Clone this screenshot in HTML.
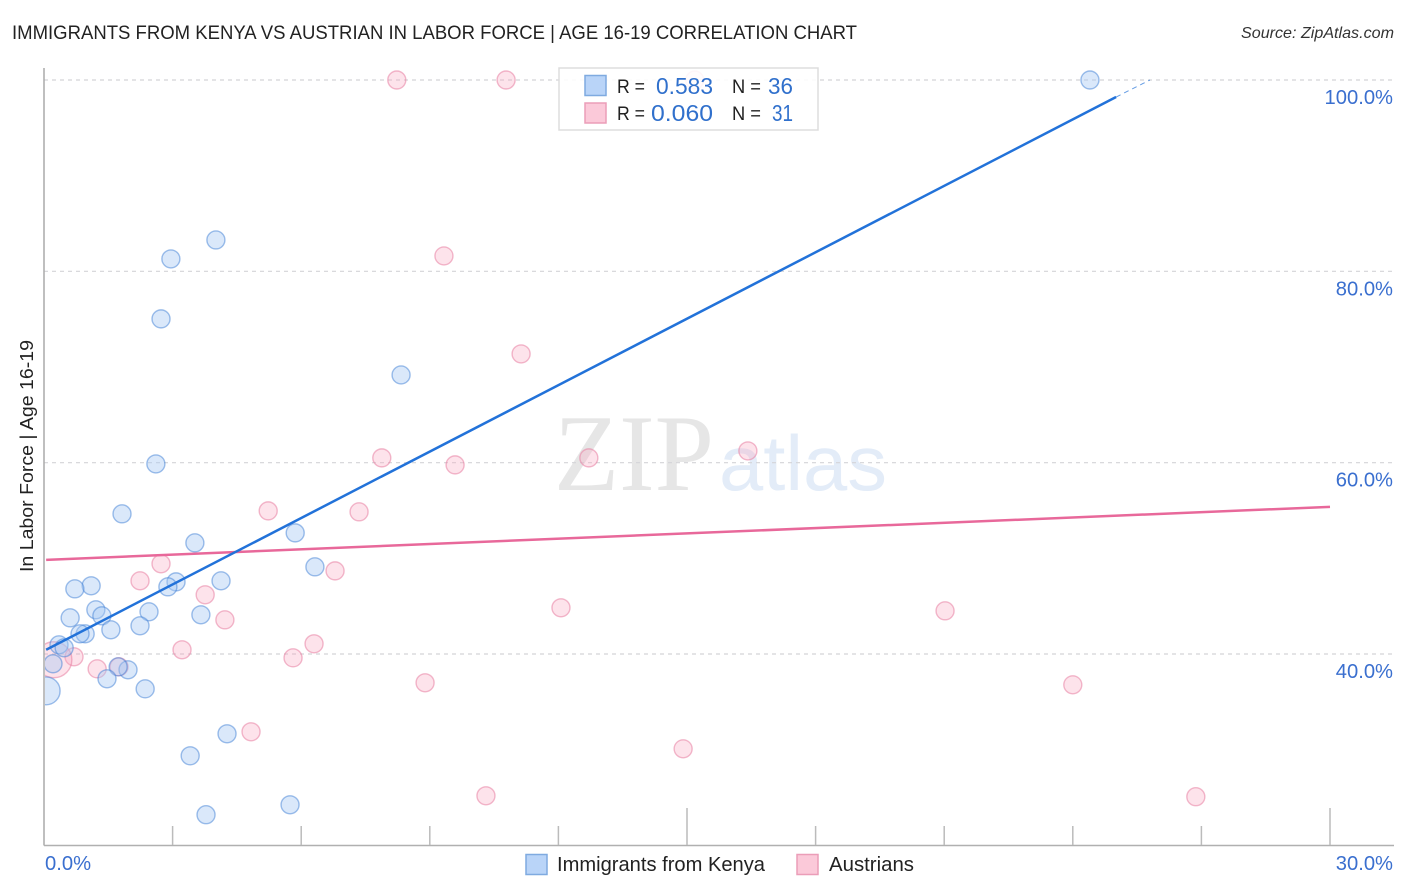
<!DOCTYPE html>
<html lang="en">
<head>
<meta charset="utf-8">
<title>Immigrants from Kenya vs Austrian in Labor Force | Age 16-19 Correlation Chart</title>
<style>
html,body{margin:0;padding:0;background:#fff;width:1406px;height:892px;overflow:hidden}
svg{display:block;font-family:"Liberation Sans",sans-serif}
</style>
</head>
<body>
<svg id="chart" width="1406" height="892" viewBox="0 0 1406 892">
  <defs><clipPath id="plot-clip"><rect x="45" y="60" width="1350" height="785"/></clipPath></defs>
  <rect x="0" y="0" width="1406" height="892" fill="#fff"/>
  <text x="12" y="39" font-size="19" fill="#222" textLength="845" lengthAdjust="spacingAndGlyphs">IMMIGRANTS FROM KENYA VS AUSTRIAN IN LABOR FORCE | AGE 16-19 CORRELATION CHART</text>
  <text x="1394" y="38" font-size="16" font-style="italic" fill="#333" text-anchor="end" textLength="153" lengthAdjust="spacingAndGlyphs">Source: ZipAtlas.com</text>
  <text x="554" y="490" font-size="109" font-family="'Liberation Serif',serif" fill="#e6e6e6" textLength="160" lengthAdjust="spacingAndGlyphs">ZIP</text>
  <text x="719" y="490" font-size="78" fill="#e3ecf8" textLength="168" lengthAdjust="spacingAndGlyphs">atlas</text>
  <g id="grid"></g>
  <g id="axes"></g>
  <g id="marks" clip-path="url(#plot-clip)"></g>
  <g id="trends"></g>
  <g id="labels"></g>
  <text transform="translate(33,456) rotate(-90)" font-size="18.5" fill="#222" text-anchor="middle" textLength="232" lengthAdjust="spacingAndGlyphs">In Labor Force | Age 16-19</text>

  <g>
    <rect x="559" y="68" width="259" height="62" fill="#fff" fill-opacity="0.88" stroke="#ddd" stroke-width="1.5"/>
    <rect x="585" y="75.500" width="21" height="20" fill="#b9d4f8" stroke="#7faae0" stroke-width="1.500"/>
    <rect x="585" y="103" width="21" height="20" fill="#fbc9d9" stroke="#eb9db8" stroke-width="1.500"/>
    <text x="617" y="93" font-size="19.500" fill="#222" textLength="28" lengthAdjust="spacingAndGlyphs">R =</text>
    <text x="656" y="94" font-size="23" fill="#3070cc" textLength="57" lengthAdjust="spacingAndGlyphs">0.583</text>
    <text x="732" y="93" font-size="19.500" fill="#222" textLength="29" lengthAdjust="spacingAndGlyphs">N =</text>
    <text x="768" y="94" font-size="23" fill="#3070cc" textLength="25" lengthAdjust="spacingAndGlyphs">36</text>
    <text x="617" y="120" font-size="19.500" fill="#222" textLength="28" lengthAdjust="spacingAndGlyphs">R =</text>
    <text x="651" y="121" font-size="23" fill="#3070cc" textLength="62" lengthAdjust="spacingAndGlyphs">0.060</text>
    <text x="732" y="120" font-size="19.500" fill="#222" textLength="29" lengthAdjust="spacingAndGlyphs">N =</text>
    <text x="772" y="121" font-size="23" fill="#3070cc" textLength="21" lengthAdjust="spacingAndGlyphs">31</text>
  </g>

  <g>
    <rect x="526" y="854.500" width="21" height="20" fill="#b9d4f8" stroke="#7faae0" stroke-width="1.500"/>
    <text x="557" y="871" font-size="20" fill="#222" textLength="208" lengthAdjust="spacingAndGlyphs">Immigrants from Kenya</text>
  </g>
  <g>
    <rect x="797" y="854.500" width="21" height="20" fill="#fbc9d9" stroke="#eb9db8" stroke-width="1.500"/>
    <text x="829" y="871" font-size="20" fill="#222" textLength="85" lengthAdjust="spacingAndGlyphs">Austrians</text>
  </g>
</svg>
<script>
const yTicks = [100, 80, 60, 40];
const yTickLabels = ["100.0%", "80.0%", "60.0%", "40.0%"];
const xTicks = [3, 6, 9, 12, 15, 18, 21, 24, 27, 30];
const xMajorTicks = [15, 30];
const xEndLabels = ["0.0%", "30.0%"];

const kenyaX = [24.40,4.01,2.96,2.73,8.33,2.61,1.82,5.86,3.52,6.32,4.13,3.08,2.89,1.10,0.72,0.61,1.21,1.35,2.45,3.66,2.24,1.56,0.96,0.84,0.35,0.47,0.21,1.96,1.73,1.47,2.36,0.05,4.27,3.41,5.74,3.78];
const kenyaY = [100,83.28,81.30,75.03,69.17,59.87,54.65,52.66,51.62,49.11,47.65,47.54,47.02,47.13,46.81,43.78,44.62,43.99,44.41,44.10,42.95,42.53,42.11,42.11,40.96,40.65,38.98,38.35,38.66,37.41,36.36,36.15,31.66,29.36,24.24,23.20];
const kenyaWeight = [1,1,1,1,1,1,1,1,1,1,1,1,1,1,1,1,1,1,1,1,1,1,1,1,1,1,1,1,1,1,1,2.4,1,1,1,1];

const austrianX = [8.23,10.78,15.18,9.33,11.13,7.88,9.59,12.71,16.42,5.23,7.35,2.73,6.79,2.24,3.76,12.06,21.02,4.22,6.30,3.22,5.81,0.70,1.24,1.75,0.23,8.89,24.00,4.83,14.91,10.31,26.87];
const austrianY = [100,100,100,81.61,71.37,60.50,59.77,60.50,61.23,54.96,54.86,49.43,48.69,47.65,46.19,44.83,44.51,43.57,41.07,40.44,39.60,39.71,38.45,38.66,39.40,36.99,36.78,31.87,30.09,25.18,25.08];
const austrianWeight = [1,1,1,1,1,1,1,1,1,1,1,1,1,1,1,1,1,1,1,1,1,1,1,1,4,1,1,1,1,1,1];

const kenyaTrendX = [0.05, 25.01];
const kenyaTrendY = [40.44, 98.22];
const kenyaTrendExtX = [25.01, 25.80];
const kenyaTrendExtY = [98.22, 100];
const austrianTrendX = [0.05, 30];
const austrianTrendY = [49.84, 55.38];

const NS = "http://www.w3.org/2000/svg";
const xScale = v => 44 + v * (1330 - 44) / 30;
const yScale = v => 80 + (100 - v) * (654 - 80) / 60;
const rScale = w => 9 * Math.sqrt(w);

function make(tag, attrs, parent, text) {
  const el = document.createElementNS(NS, tag);
  for (const k in attrs) el.setAttribute(k, attrs[k]);
  if (text !== undefined) el.textContent = text;
  parent.appendChild(el);
  return el;
}

const gridG = document.getElementById("grid");
const axesG = document.getElementById("axes");
const marksG = document.getElementById("marks");
const trendsG = document.getElementById("trends");
const labelsG = document.getElementById("labels");

yTicks.forEach((t, i) => {
  const line = make("line", {x1: 44, x2: 1393, y1: yScale(t), y2: yScale(t), stroke: "#d4d4d8", "stroke-width": 1.2, "stroke-dasharray": "4 4"}, gridG);
  
  
  const lab = make("text", {x: 1393, y: yScale(t) + 24, "font-size": 20.2, fill: "#3a6fcf", "text-anchor": "end"}, labelsG, yTickLabels[i]);
  
  
});

const yAxis = make("line", {x1: 44, x2: 44, y1: 68, y2: 845.500, stroke: "#aaa", "stroke-width": 1.500}, axesG);


const xAxis = make("line", {x1: 44, x2: 1394, y1: 845.500, y2: 845.500, stroke: "#b0b0b0", "stroke-width": 1.500}, axesG);



xTicks.forEach(t => {
  const top = xMajorTicks.includes(t) ? 808 : 826;
  const tick = make("line", {x1: xScale(t), x2: xScale(t), y1: top, y2: 845, stroke: "#bbb", "stroke-width": 1.500}, axesG);
  
  
});

const xLabelLeft = make("text", {x: 45, y: 870, "font-size": 20.2, fill: "#3a6fcf"}, labelsG, xEndLabels[0]);


const xLabelRight = make("text", {x: 1393, y: 870, "font-size": 20.2, fill: "#3a6fcf", "text-anchor": "end"}, labelsG, xEndLabels[1]);



austrianX.forEach((v, i) => {
  const c = make("circle", {cx: xScale(v), cy: yScale(austrianY[i]), r: rScale(austrianWeight[i]), fill: "#f8a8c2", "fill-opacity": 0.32, stroke: "#e77fa3", "stroke-opacity": 0.55, "stroke-width": 1.400}, marksG);
  
  
});
kenyaX.forEach((v, i) => {
  const c = make("circle", {cx: xScale(v), cy: yScale(kenyaY[i]), r: rScale(kenyaWeight[i]), fill: "#a8c8f4", "fill-opacity": 0.42, stroke: "#3f7fd6", "stroke-opacity": 0.5, "stroke-width": 1.400}, marksG);
  
  
});

const austrianLine = make("line", {x1: xScale(austrianTrendX[0]), y1: yScale(austrianTrendY[0]), x2: xScale(austrianTrendX[1]), y2: yScale(austrianTrendY[1]), stroke: "#e8689a", "stroke-width": 2.500}, trendsG);


const kenyaLine = make("line", {x1: xScale(kenyaTrendX[0]), y1: yScale(kenyaTrendY[0]), x2: xScale(kenyaTrendX[1]), y2: yScale(kenyaTrendY[1]), stroke: "#2272d9", "stroke-width": 2.500}, trendsG);


const kenyaExt = make("line", {x1: xScale(kenyaTrendExtX[0]), y1: yScale(kenyaTrendExtY[0]), x2: xScale(kenyaTrendExtX[1]), y2: yScale(kenyaTrendExtY[1]), stroke: "#2272d9", "stroke-width": 1, "stroke-dasharray": "5 4", "stroke-opacity": 0.7}, trendsG);


</script>
</body>
</html>
